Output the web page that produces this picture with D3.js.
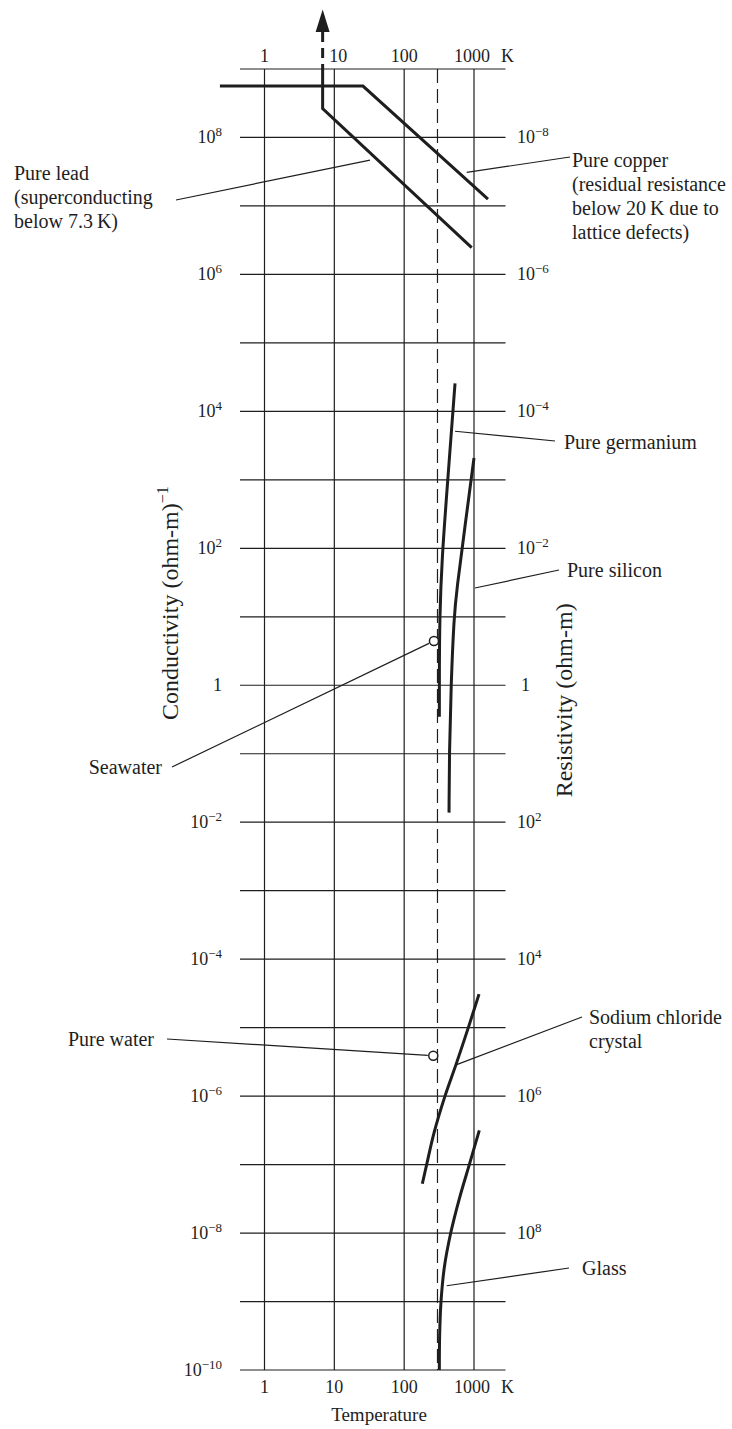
<!DOCTYPE html>
<html>
<head>
<meta charset="utf-8">
<script src="https://cdn.jsdelivr.net/npm/d3@7"></script>
<style>
  body { margin: 0; background: #fff; }
  svg text { font-family: "Liberation Serif", "Times New Roman", serif; fill: #1e1e1e; }
</style>
</head>
<body>
<svg id="chart" width="732" height="1429"></svg>
<script>
// Temperature decades (K) labelled above and below the grid
const tempTicks = [1, 10, 100, 1000];
// Conductivity decades (ohm-m)^-1 drawn as grid rows
const gridExponents = d3.range(-10, 10);
// Exponents labelled on the conductivity (left) side
const conductivityLabels = [8, 6, 4, 2, 0, -2, -4, -6, -8, -10];
// Exponents labelled on the resistivity (right) side, resistivity = 1/conductivity
const resistivityLabels = [-8, -6, -4, -2, 0, 2, 4, 6, 8];

// Room temperature reference line (K)
const roomTemperature = 300;

// Curves as [temperature K, conductivity (ohm-m)^-1]
const copper = [[0.23, 10 ** 8.75], [25.7, 10 ** 8.75], [1586, 10 ** 7.10]];
const lead = [[6.8, 1e9], [6.8, 10 ** 8.42], [927, 10 ** 6.39]];
const leadSuperconducting = [[6.8, 10 ** 9.54], [6.8, 1e9]];
const leadArrowTip = [6.8, 10 ** 9.87];
const germanium = [[535, 10 ** 4.41], [429, 10 ** 3.11], [345, 10 ** 1.83], [322, 10 ** 0.95], [319, 10 ** 0.2], [319, 10 ** -0.46]];
const silicon = [[1000, 10 ** 3.32], [738, 10 ** 2.30], [565, 10 ** 1.39], [517, 1e1], [469, 1], [443, 1e-1], [439, 10 ** -1.86]];
const sodiumChloride = [[1180, 10 ** -4.51], [829, 1e-5], [552, 10 ** -5.54], [384, 1e-6], [267, 10 ** -6.54], [210, 1e-7], [182, 10 ** -7.28]];
const glass = [[1191, 10 ** -6.5], [857, 1e-7], [616, 10 ** -7.5], [464, 1e-8], [376, 10 ** -8.5], [337, 1e-9], [322, 10 ** -9.5], [319, 1e-10]];
// Single measurements near room temperature
const seawater = [267, 10 ** 0.646];
const pureWater = [261, 10 ** -5.41];

// Callouts: text lines, where the leader touches the data, and text placement
const callouts = [
  { lines: ["Pure lead", "(superconducting", "below 7.3\u2009K)"], at: [32.4, 10 ** 7.67], tx: 14, ty: 180, anchor: "start", lx: 176, ly: 200 },
  { lines: ["Pure copper", "(residual resistance", "below 20\u2009K due to", "lattice defects)"], at: [787, 10 ** 7.49], tx: 572, ty: 167, anchor: "start", lx: 570, ly: 157 },
  { lines: ["Pure germanium"], at: [535, 10 ** 3.71], tx: 564, ty: 449, anchor: "start", lx: 555, ly: 441 },
  { lines: ["Pure silicon"], at: [1033, 10 ** 1.42], tx: 567, ty: 577, anchor: "start", lx: 559, ly: 570 },
  { lines: ["Seawater"], point: seawater, tx: 162, ty: 774, anchor: "end", lx: 172, ly: 767 },
  { lines: ["Pure water"], point: pureWater, tx: 154, ty: 1046, anchor: "end", lx: 167, ly: 1039 },
  { lines: ["Sodium chloride", "crystal"], at: [565, 10 ** -5.54], tx: 589, ty: 1024, anchor: "start", lx: 582, ly: 1017 },
  { lines: ["Glass"], at: [407, 10 ** -8.77], tx: 582, ty: 1275, anchor: "start", lx: 569, ly: 1268 }
];

const svg = d3.select("#chart");

// Log scales for both axes
const x = d3.scaleLog().domain([1, 1000]).range([264.5, 474]);
const y = d3.scaleLog().domain([1e-10, 1e9]).range([1370, 69]);
const gridLeft = 240, gridRight = 505.5;

const ink = "#1e1e1e";

// Horizontal grid (one line per decade)
svg.append("g").selectAll("line").data(gridExponents).join("line")
  .attr("x1", gridLeft).attr("x2", gridRight)
  .attr("y1", e => y(10 ** e)).attr("y2", e => y(10 ** e))
  .attr("stroke", ink).attr("stroke-width", 1.2);

// Vertical grid at temperature decades
svg.append("g").selectAll("line").data(tempTicks).join("line")
  .attr("x1", d => x(d)).attr("x2", d => x(d))
  .attr("y1", y(1e9)).attr("y2", y(1e-10))
  .attr("stroke", ink).attr("stroke-width", 1.2);

// Room temperature dashed line
svg.append("line")
  .attr("x1", x(roomTemperature)).attr("x2", x(roomTemperature))
  .attr("y1", y(1e9)).attr("y2", y(1e-10))
  .attr("stroke", ink).attr("stroke-width", 1.2)
  .attr("stroke-dasharray", "14,6");

// Temperature tick labels, top and bottom
const tickFont = 18;
function tempLabels(baseline, top) {
  const g = svg.append("g").attr("font-size", tickFont);
  g.selectAll("text").data(tempTicks).join("text")
    .attr("x", d => x(d) + (top && d === 10 ? 4 : 0) + (d === 1000 ? -2 : 0))
    .attr("y", baseline)
    .attr("text-anchor", "middle")
    .text(d => d);
  g.append("text").attr("x", x(1000) + 27).attr("y", baseline).text("K");
}
tempLabels(62, true);
tempLabels(1393, false);

svg.append("text").attr("x", x(10 ** 1.64)).attr("y", 1421).attr("text-anchor", "middle")
  .attr("font-size", 19).text("Temperature");

// Power-of-ten label with superscript exponent
function powerLabel(sel, e) {
  if (e === 0) { sel.text("1"); return; }
  sel.append("tspan").text("10");
  sel.append("tspan").attr("dy", -7).attr("font-size", 13).text(e < 0 ? "\u2212" + (-e) : e);
}

const left = svg.append("g").attr("font-size", tickFont);
conductivityLabels.forEach(e => {
  const t = left.append("text").attr("x", 222).attr("y", y(10 ** e) + 6).attr("text-anchor", "end");
  powerLabel(t, e);
});

const right = svg.append("g").attr("font-size", tickFont);
resistivityLabels.forEach(e => {
  const t = right.append("text").attr("x", 517).attr("y", y(10 ** (-e)) + 6).attr("text-anchor", "start");
  if (e === 0) t.attr("x", 521);
  powerLabel(t, e);
});

// Axis titles
const condTitle = svg.append("text")
  .attr("transform", `translate(178, ${y(10 ** 1.2)}) rotate(-90)`)
  .attr("text-anchor", "middle").attr("font-size", 24);
condTitle.append("tspan").text("Conductivity (ohm-m)");
condTitle.append("tspan").attr("dy", -10).attr("font-size", 16).text("\u22121");

svg.append("text")
  .attr("transform", `translate(572, ${y(10 ** -0.22)}) rotate(-90)`)
  .attr("text-anchor", "middle").attr("font-size", 24)
  .text("Resistivity (ohm-m)");

// Data curves
const straight = d3.line().x(d => x(d[0])).y(d => y(d[1]));
const smooth = d3.line().x(d => x(d[0])).y(d => y(d[1])).curve(d3.curveBasis);
const through = d3.line().x(d => x(d[0])).y(d => y(d[1])).curve(d3.curveCatmullRom.alpha(0.5));

const curves = svg.append("g").attr("fill", "none").attr("stroke", ink)
  .attr("stroke-width", 3).attr("stroke-linejoin", "miter");
curves.append("path").attr("d", straight(copper));
curves.append("path").attr("d", straight(lead));
curves.append("path").attr("d", straight(leadSuperconducting)).attr("stroke-dasharray", "10,6");
[germanium, silicon].forEach(c => curves.append("path").attr("d", smooth(c)));
[sodiumChloride, glass].forEach(c => curves.append("path").attr("d", through(c)));

// Arrow marking infinite conductivity of superconducting lead
const ax = x(leadArrowTip[0]), ay = y(leadArrowTip[1]), abase = y(leadSuperconducting[0][1]);
svg.append("path")
  .attr("d", `M${ax},${ay} L${ax - 7},${abase} L${ax + 7},${abase} Z`)
  .attr("fill", ink);

// Point measurements
const pointR = 4.5;
svg.append("g").selectAll("circle").data([seawater, pureWater]).join("circle")
  .attr("cx", d => x(d[0])).attr("cy", d => y(d[1])).attr("r", pointR)
  .attr("fill", "#fff").attr("stroke", ink).attr("stroke-width", 1.5);

// Callout leaders and text
const lineGap = 24;
callouts.forEach(c => {
  let ex, ey;
  if (c.point) {
    const px = x(c.point[0]), py = y(c.point[1]);
    const dx = c.lx - px, dy = c.ly - py, len = Math.hypot(dx, dy);
    ex = px + dx / len * (pointR + 1); ey = py + dy / len * (pointR + 1);
  } else {
    ex = x(c.at[0]); ey = y(c.at[1]);
  }
  svg.append("line").attr("x1", ex).attr("y1", ey).attr("x2", c.lx).attr("y2", c.ly)
    .attr("stroke", ink).attr("stroke-width", 1.2);
  const t = svg.append("text").attr("font-size", 20).attr("text-anchor", c.anchor);
  c.lines.forEach((s, i) => t.append("tspan").attr("x", c.tx).attr("y", c.ty + i * lineGap).text(s));
});
</script>
</body>
</html>
